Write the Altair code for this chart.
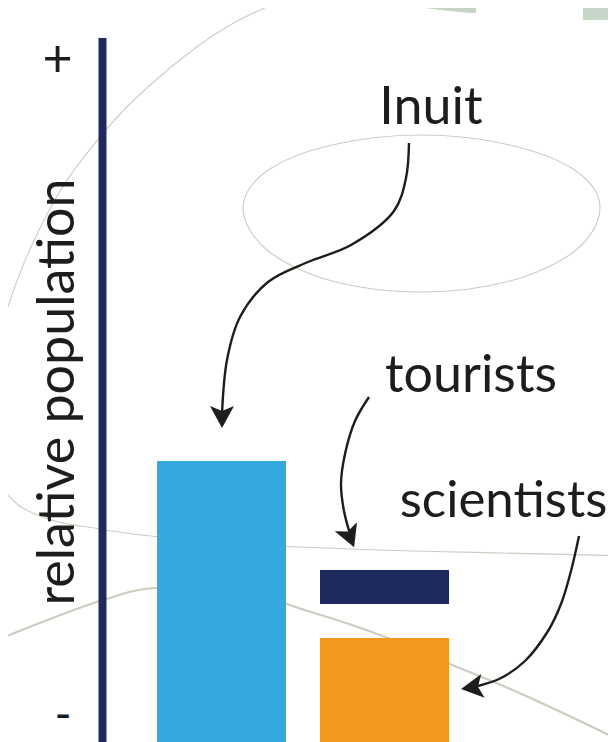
import altair as alt
import pandas as pd

# picture-space scales
X_DOMAIN = [8, 608]
Y_DOMAIN = [742, 8]

groups = ["Inuit", "tourists", "scientists"]
bar_x0 = [157, 320, 320]
bar_x1 = [286, 449, 449]
bar_top = [461, 570, 638]
bar_bottom = [742, 604, 742]
bar_colors = ["#35a8dd", "#1e2a5e", "#f3971e"]

axis_x = [98.5, 106.5]
axis_y = [38, 742]

upper_curve_x = [0, 20, 52, 100, 170, 225, 283]
upper_curve_y = [330, 273, 205, 137, 68, 28, 0]
middle_curve_x = [0, 17, 40, 100, 200, 350, 500, 640]
middle_curve_y = [486, 504, 516, 529, 541, 549, 553, 556]

thick_curve_x = [-10, 50, 100, 157, 220, 308, 388, 450, 508, 650]
thick_curve_y = [643, 619, 601, 588, 588, 611, 638, 664, 688, 755]

ellipse_x = [600, 576, 510, 421, 332, 267, 243, 267, 332, 421, 510, 576]
ellipse_y = [208, 250, 281, 292, 281, 250, 208, 171, 145, 135, 145, 171]

green_a_x = [392, 420, 450, 474, 476]
green_a_bottom = [0, 7, 11, 13, 13]
green_b_x = [583, 616]
green_b_bottom = [20, 20]

inuit_arrow_x = [409, 406, 394, 351, 308, 268, 240, 227, 222]
inuit_arrow_y = [143, 178, 211, 245, 262, 282, 317, 360, 414]
tourist_arrow_x = [369, 355, 345, 341, 344, 350]
tourist_arrow_y = [397, 421, 454, 484, 511, 534]
scientist_arrow_x = [579, 571, 561, 548, 525, 501, 478]
scientist_arrow_y = [536, 571, 604, 631, 661, 678, 686]

head_x = [222, 350, 472]
head_y = [417, 537, 687.5]
head_angle = [0, 338, 82]

labels = ["Inuit", "tourists", "+"]
label_x = [431, 471, 57.5]
label_y = [124, 392, 77]
small_label = ["scientists"]
small_label_x = [503.5]
small_label_y = [517]
minus_label = ["-"]
minus_x = [63]
minus_y = [716]
axis_title = "relative population"
axis_title_x = [74]
axis_title_y = [392]

FONT = "Lato"
FS = 52
INK = "#1d1d1b"
CURVE = "#cfcbc0"
GREEN = "#c5d5c6"

xs = alt.Scale(domain=X_DOMAIN, nice=False, zero=False)
ys = alt.Scale(domain=Y_DOMAIN, nice=False, zero=False)


def X(f="x"):
    return alt.X(f"{f}:Q", scale=xs, axis=None)


def Y(f="y"):
    return alt.Y(f"{f}:Q", scale=ys, axis=None)


def curve(px, py, color, width, interp="catmull-rom"):
    d = pd.DataFrame({"x": px, "y": py, "i": range(len(px))})
    return alt.Chart(d).mark_line(
        color=color, strokeWidth=width, interpolate=interp, clip=True
    ).encode(x=X(), y=Y(), order="i:Q")


def green(px, bottom):
    d = pd.DataFrame({"x": px, "y": bottom, "y0": [0] * len(px)})
    return alt.Chart(d).mark_area(color=GREEN, clip=True, interpolate="monotone").encode(
        x=X(), y=Y(), y2="y0:Q"
    )


def texts(ts, px, py, size, baseline="alphabetic", **kw):
    d = pd.DataFrame({"t": ts, "x": px, "y": py})
    return alt.Chart(d).mark_text(
        font=FONT, fontSize=size, color=INK, align="center", baseline=baseline, **kw
    ).encode(x=X(), y=Y(), text="t:N")


bars = pd.DataFrame({"g": groups, "x": bar_x0, "x2": bar_x1, "y": bar_top, "y2": bar_bottom, "c": bar_colors})
bar_layer = alt.Chart(bars).mark_rect(clip=True).encode(
    x=X(), x2="x2:Q", y=Y(), y2="y2:Q", color=alt.Color("c:N", scale=None)
)

axis_df = pd.DataFrame({"x": [axis_x[0]], "x2": [axis_x[1]], "y": [axis_y[0]], "y2": [axis_y[1]]})
axis_layer = alt.Chart(axis_df).mark_rect(color="#1e2a5e", clip=True).encode(
    x=X(), x2="x2:Q", y=Y(), y2="y2:Q"
)

heads = pd.DataFrame({"x": head_x, "y": head_y, "a": head_angle})
head_layer = alt.Chart(heads).mark_point(
    shape="M0,0.92 L-1,-0.92 L0,-0.5 L1,-0.92 Z",
    filled=True, opacity=1, color=INK, size=576,
).encode(x=X(), y=Y(), angle=alt.Angle("a:Q", scale=None))

chart = alt.layer(
    green(green_a_x, green_a_bottom),
    green(green_b_x, green_b_bottom),
    curve(upper_curve_x, upper_curve_y, CURVE, 1.1, "monotone"),
    curve(middle_curve_x, middle_curve_y, CURVE, 1.1, "monotone"),
    curve(thick_curve_x, thick_curve_y, CURVE, 2.2, "monotone"),
    curve(ellipse_x, ellipse_y, CURVE, 1.1, "cardinal-closed"),
    bar_layer,
    axis_layer,
    curve(inuit_arrow_x, inuit_arrow_y, INK, 2.4),
    curve(tourist_arrow_x, tourist_arrow_y, INK, 2.4),
    curve(scientist_arrow_x, scientist_arrow_y, INK, 2.4),
    head_layer,
    texts(labels, label_x, label_y, FS),
    texts(small_label, small_label_x, small_label_y, FS - 1),
    texts(minus_label, minus_x, minus_y, 46, baseline="middle"),
    texts([axis_title], axis_title_x, axis_title_y, FS, angle=270),
).properties(
    width=600, height=734, padding=0, autosize=alt.AutoSizeParams(type="none")
).configure_view(stroke=None)

chart.save("out.html", embed_options={"renderer": "svg", "actions": False})
